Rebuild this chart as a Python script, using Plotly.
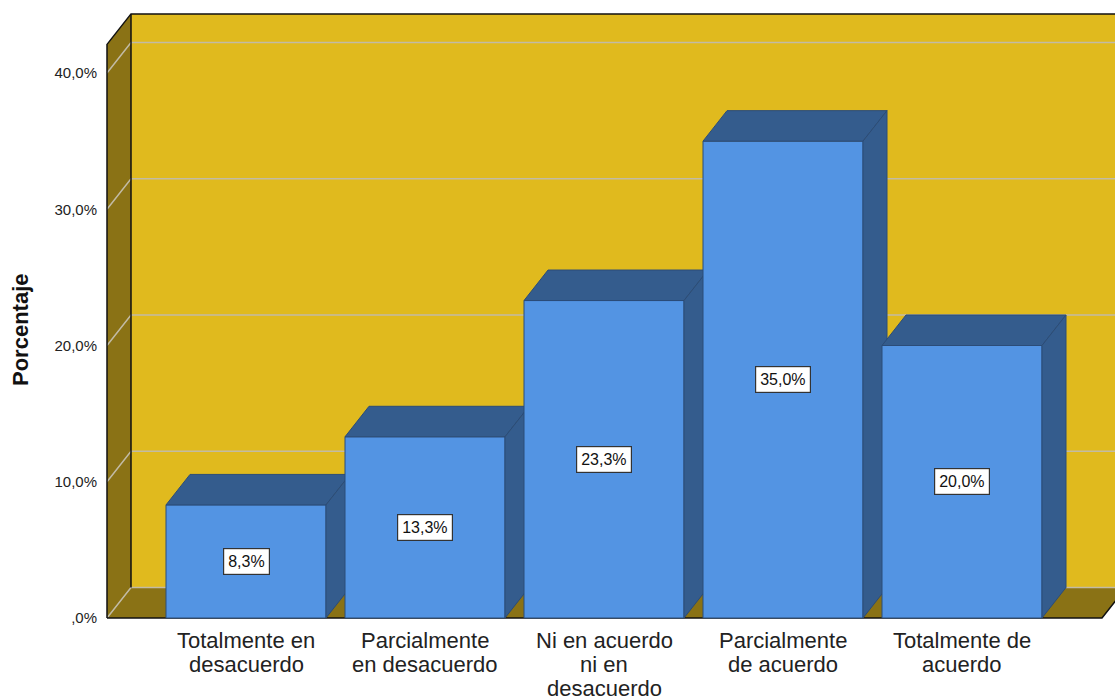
import plotly.graph_objects as go

# Survey response distribution
categories = [
    "Totalmente en<br>desacuerdo",
    "Parcialmente<br>en desacuerdo",
    "Ni en acuerdo<br>ni en<br>desacuerdo",
    "Parcialmente<br>de acuerdo",
    "Totalmente de<br>acuerdo",
]
percentages = [8.3, 13.3, 23.3, 35.0, 20.0]
y_ticks = [0, 10, 20, 30, 40]
y_tick_labels = [",0%", "10,0%", "20,0%", "30,0%", "40,0%"]

FONT = "Liberation Sans, Arial, sans-serif"

# colours
WALL_BACK = "#E0BA1E"
WALL_SIDE = "#8A7215"
GRID = "#C2BBA5"
BAR_FRONT = "#5394E3"
BAR_SHADE = "#345C8D"
BAR_EDGE = "#2B4C78"

# figure / axis geometry
W, H = 1115, 700
M_L, M_R, M_T, M_B = 100, 0, 0, 75
PX_PER_UNIT_X = 179.0      # pixels between category centres
PX_PER_PCT = 13.625        # pixels per percentage point
X0_PX = 246.0              # pixel of first category centre
Y0_PX = 618.0              # pixel of the 0% baseline

plot_w = W - M_L - M_R
plot_h = H - M_T - M_B
x_range = [(M_L - X0_PX) / PX_PER_UNIT_X, (W - M_R - X0_PX) / PX_PER_UNIT_X]
y_range = [-(M_T + plot_h - Y0_PX) / PX_PER_PCT, (Y0_PX - M_T) / PX_PER_PCT]

# 3D depth offsets expressed in axis units
DX = 24.0 / PX_PER_UNIT_X
DY = 30.5 / PX_PER_PCT
BAR_W = 160.0 / PX_PER_UNIT_X
XL = (107.0 - X0_PX) / PX_PER_UNIT_X      # front edge of left wall
XR = (1102.0 - X0_PX) / PX_PER_UNIT_X     # front right edge of floor
TOP = 42.1                                # height of the walls

fig = go.Figure()
shapes = []


def poly(pts, fill, line_color=None, width=0):
    path = "M " + " L ".join(f"{x},{y}" for x, y in pts) + " Z"
    return dict(type="path", path=path, xref="x", yref="y", fillcolor=fill,
                line=dict(color=line_color or fill, width=width), layer="above")


def seg(pts, color, width):
    path = "M " + " L ".join(f"{x},{y}" for x, y in pts)
    return dict(type="path", path=path, xref="x", yref="y",
                line=dict(color=color, width=width), layer="above")


# walls and floor
shapes.append(poly([(XL + DX, DY), (XR + 2 * DX, DY), (XR + 2 * DX, TOP + DY), (XL + DX, TOP + DY)], WALL_BACK))
shapes.append(poly([(XL, 0), (XL + DX, DY), (XL + DX, TOP + DY), (XL, TOP)], WALL_SIDE))
shapes.append(poly([(XL, 0), (XR, 0), (XR + DX, DY), (XL + DX, DY)], WALL_SIDE))

# gridlines running across the left wall and back wall
for t in y_ticks:
    shapes.append(seg([(XL, t), (XL + DX, t + DY), (XR + 2 * DX, t + DY)], GRID, 1.5))

# wall outlines
shapes.append(seg([(XL + DX, DY), (XL + DX, TOP + DY)], "#111111", 1.5))
shapes.append(seg([(XL, 0), (XL, TOP), (XL + DX, TOP + DY), (XR + 2 * DX, TOP + DY)], "#111111", 1.5))
shapes.append(seg([(XL, 0), (XR, 0), (XR + DX, DY)], "#111111", 1.5))

# 3D bars, drawn left to right so each one overlaps its neighbour's side
for i, v in enumerate(percentages):
    x1, x2 = i - BAR_W / 2, i + BAR_W / 2
    shapes.append(poly([(x1, 0), (x2, 0), (x2, v), (x1, v)], BAR_FRONT, BAR_EDGE, 1))
    shapes.append(poly([(x1, v), (x1 + DX, v + DY), (x2 + DX, v + DY), (x2, v)], BAR_SHADE, BAR_EDGE, 1))
    shapes.append(poly([(x2, 0), (x2 + DX, DY), (x2 + DX, v + DY), (x2, v)], BAR_SHADE, BAR_EDGE, 1))

# invisible trace so the axes are created
fig.add_trace(go.Scatter(x=list(range(len(percentages))), y=percentages, mode="markers",
                         marker=dict(opacity=0), hoverinfo="skip", showlegend=False))

annotations = []
# value labels in white boxes
for i, v in enumerate(percentages):
    annotations.append(dict(
        x=i, y=v / 2, xref="x", yref="y", showarrow=False,
        text=f"{v:.1f}".replace(".", ",") + "%",
        font=dict(family=FONT, size=16, color="#111111"),
        bgcolor="white", bordercolor="#333333", borderwidth=1.2, borderpad=4,
    ))

# category labels, one line at a time for tight line spacing
for i, label in enumerate(categories):
    for k, line in enumerate(label.split("<br>")):
        annotations.append(dict(
            x=i, y=0, xref="x", yref="y", showarrow=False,
            xanchor="center", yanchor="top", yshift=-8 - 24 * k,
            text=line, font=dict(family=FONT, size=22, color="#222222"),
        ))

# axis title
annotations.append(dict(
    x=(20 - M_L) / plot_w, y=(plot_h - 330 + M_T) / plot_h, xref="paper", yref="paper",
    showarrow=False, textangle=-90, xanchor="center", yanchor="middle",
    text="<b>Porcentaje</b>", font=dict(family=FONT, size=22, color="#111111"),
))

fig.update_layout(
    width=W, height=H,
    margin=dict(l=M_L, r=M_R, t=M_T, b=M_B, pad=0),
    paper_bgcolor="white", plot_bgcolor="white",
    shapes=shapes, annotations=annotations, showlegend=False,
    xaxis=dict(range=x_range, showgrid=False, zeroline=False, showline=False,
               showticklabels=False, ticks="", fixedrange=True),
    yaxis=dict(range=y_range, showgrid=False, zeroline=False, showline=False,
               tickmode="array", tickvals=y_ticks, ticktext=y_tick_labels,
               ticks="", ticklabelstandoff=2,
               tickfont=dict(family=FONT, size=15, color="#222222"), fixedrange=True),
)

fig.write_html("out.html")
